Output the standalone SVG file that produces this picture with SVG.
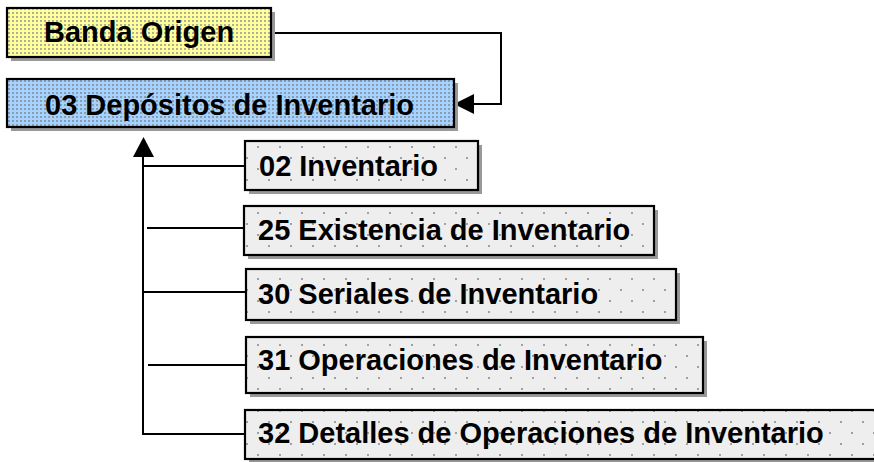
<svg xmlns="http://www.w3.org/2000/svg" width="874" height="462" viewBox="0 0 874 462">
<defs>
  <pattern id="pYellow" width="4" height="4" patternUnits="userSpaceOnUse">
    <rect width="4" height="4" fill="#ffff9c"/>
    <rect x="0" y="0" width="2" height="2" fill="#b0b098"/>
  </pattern>
  <pattern id="pBlue" width="4" height="4" patternUnits="userSpaceOnUse">
    <rect width="4" height="4" fill="#a6d2ff"/>
    <rect x="0" y="0" width="2" height="2" fill="#8a9cb0"/>
  </pattern>
  <pattern id="pGray" width="22" height="22" patternUnits="userSpaceOnUse" x="4" y="3">
    <rect width="22" height="22" fill="#eeeeee"/>
    <rect x="0" y="0" width="2" height="2" fill="#a0a0a0"/>
    <rect x="11" y="11" width="2" height="2" fill="#a0a0a0"/>
  </pattern>
</defs>
<style>
  .shadow { fill: #999999; }
  .box { stroke: #000; stroke-width: 2.2; }
  .lbl { font-family: "Liberation Sans", Arial, sans-serif; font-weight: bold; font-size: 29px; fill: #000; }
  .conn { fill: none; stroke: #000; stroke-width: 2; }
  .head { fill: #000; }
</style>

<g id="connectors">
  <path class="conn" d="M271,33 H501 V104 H474"/>
  <path class="head" d="M474,94 L454,104 L474,114 Z"/>
  <path class="conn" d="M143,157 V434 H245"/>
  <path class="head" d="M133,157 L143.5,137 L154,157 Z"/>
  <path class="conn" d="M143,166 H245"/>
  <path class="conn" d="M147,228 H244"/>
  <path class="conn" d="M142,292 H246"/>
  <path class="conn" d="M148,365 H246"/>
</g>

<g id="banda-origen">
  <rect class="shadow" x="11" y="12" width="264" height="49"/>
  <rect class="box" x="7" y="8" width="264" height="49" fill="url(#pYellow)"/>
  <text class="lbl" x="44" y="42">Banda Origen</text>
</g>

<g id="depositos">
  <rect class="shadow" x="11" y="83" width="447" height="48"/>
  <rect class="box" x="7" y="79" width="447" height="48" fill="url(#pBlue)"/>
  <text class="lbl" x="45" y="115">03 Depósitos de Inventario</text>
</g>

<g id="n02">
  <rect class="shadow" x="249" y="145" width="233" height="49"/>
  <rect class="box" x="245" y="141" width="233" height="49" fill="url(#pGray)"/>
  <text class="lbl" x="259" y="176">02 Inventario</text>
</g>

<g id="n25">
  <rect class="shadow" x="248" y="210" width="410" height="49"/>
  <rect class="box" x="244" y="206" width="410" height="49" fill="url(#pGray)"/>
  <text class="lbl" x="258" y="240">25 Existencia de Inventario</text>
</g>

<g id="n30">
  <rect class="shadow" x="250" y="273" width="430" height="51"/>
  <rect class="box" x="246" y="269" width="430" height="51" fill="url(#pGray)"/>
  <text class="lbl" x="258" y="304">30 Seriales de Inventario</text>
</g>

<g id="n31">
  <rect class="shadow" x="250" y="341" width="457" height="56"/>
  <rect class="box" x="246" y="337" width="457" height="56" fill="url(#pGray)"/>
  <text class="lbl" x="258" y="370">31 Operaciones de Inventario</text>
</g>

<g id="n32">
  <rect class="shadow" x="249" y="414" width="640" height="49"/>
  <rect class="box" x="245" y="410" width="640" height="49" fill="url(#pGray)"/>
  <text class="lbl" x="258" y="443">32 Detalles de Operaciones de Inventario</text>
</g>
</svg>
